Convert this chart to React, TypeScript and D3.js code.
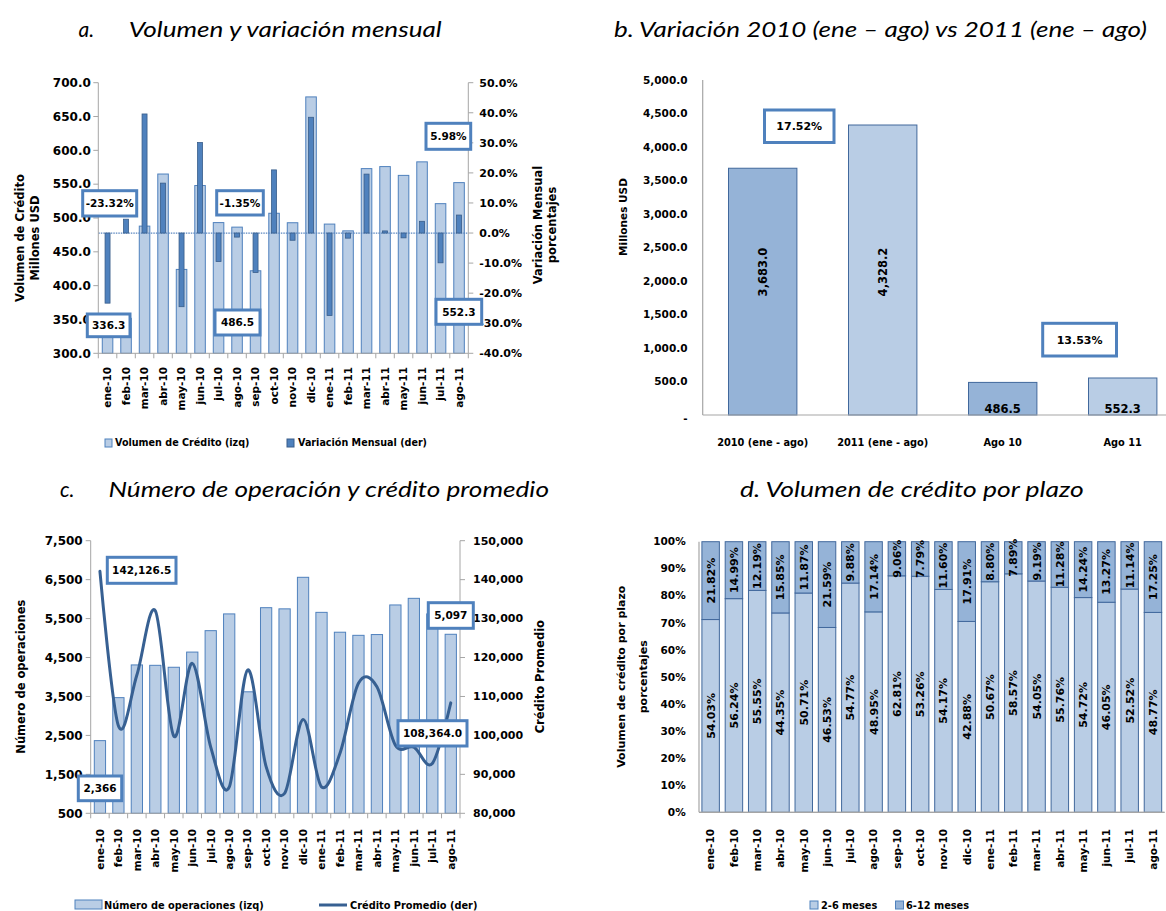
import React from "react";
import * as d3 from "d3";

// ---------- data ----------
const months = [
  "ene-10", "feb-10", "mar-10", "abr-10", "may-10", "jun-10", "jul-10", "ago-10",
  "sep-10", "oct-10", "nov-10", "dic-10", "ene-11", "feb-11", "mar-11", "abr-11",
  "may-11", "jun-11", "jul-11", "ago-11",
];

// a. volumen (millones USD) y variación mensual (%)
const volumenCredito = [
  336.3, 351.7, 488.0, 565.0, 424.0, 548.0, 493.2, 486.5, 422.0, 507.0,
  493.0, 679.0, 491.0, 481.0, 573.0, 576.0, 563.0, 583.0, 521.2, 552.3,
];
const variacionMensual = [
  -23.32, 4.6, 39.6, 16.6, -24.5, 30.1, -9.5, -1.35, -13.1, 21.0,
  -2.4, 38.5, -27.4, -1.7, 19.6, 0.7, -1.6, 3.9, -9.9, 5.98,
];
const volTicks = [300, 350, 400, 450, 500, 550, 600, 650, 700];
const varTicks = [-40, -30, -20, -10, 0, 10, 20, 30, 40, 50];

// b. acumulado enero-agosto y agosto
const periodos = ["2010 (ene - ago)", "2011 (ene - ago)", "Ago 10", "Ago 11"];
const volumenPeriodo = [3683.0, 4328.2, 486.5, 552.3];
const periodoTicks = [0, 500, 1000, 1500, 2000, 2500, 3000, 3500, 4000, 4500, 5000];

// c. número de operaciones y crédito promedio
const numeroOperaciones = [
  2366, 3470, 4310, 4300, 4250, 4640, 5190, 5620, 3620, 5780,
  5750, 6560, 5660, 5150, 5070, 5090, 5850, 6020, 5620, 5097,
];
const creditoPromedio = [
  142126.5, 102500, 115500, 132000, 99800, 118500, 97000, 86700, 116800, 92000,
  85100, 104100, 86800, 95400, 113400, 112500, 97500, 97000, 92800, 108364.0,
];
const opsTicks = [500, 1500, 2500, 3500, 4500, 5500, 6500, 7500];
const promTicks = [80000, 90000, 100000, 110000, 120000, 130000, 140000, 150000];

// d. volumen por plazo (%)
const plazo2a6 = [
  54.03, 56.24, 55.55, 44.35, 50.71, 46.53, 54.77, 48.95, 62.81, 53.26,
  54.17, 42.88, 50.67, 58.57, 54.05, 55.76, 54.72, 46.05, 52.52, 48.77,
];
const plazo6a12 = [
  21.82, 14.99, 12.19, 15.85, 11.87, 21.59, 9.88, 17.14, 9.06, 7.79,
  11.6, 17.91, 8.8, 7.89, 9.19, 11.28, 14.24, 13.27, 11.14, 17.25,
];
const pctTicks = [0, 0.1, 0.2, 0.3, 0.4, 0.5, 0.6, 0.7, 0.8, 0.9, 1];

// ---------- style ----------
const F = "'DejaVu Sans', Verdana, sans-serif";
const TF = "Lato, 'Open Sans', sans-serif";
const LIGHT = "#b9cde5";
const LIGHT_STROKE = "#4f81bd";
const MED = "#95b3d7";
const DARK = "#4f81bd";
const DARK_STROKE = "#385d8a";
const LINE = "#376092";
const AXIS = "#a6a6a6";
const CALLOUT = "#4f81bd";

// plain hyphen for negative numbers
const locale = d3.formatLocale({ decimal: ".", thousands: ",", grouping: [3], currency: ["$", ""], minus: "-" });
const fmt1 = locale.format(",.1f");
const fmtInt = locale.format(",");
const fmtDec1 = locale.format(".1f");
const pct1 = (v: number) => locale.format(".1f")(v) + "%";
const pct2 = (v: number) => locale.format(".2f")(v) + "%";

function Callout({ x0, y0, x1, y1, text, size = 11 }: any) {
  return (
    <g>
      <rect x={x0} y={y0} width={x1 - x0} height={y1 - y0} fill="#fff" stroke={CALLOUT} strokeWidth={3} />
      <text x={(x0 + x1) / 2} y={(y0 + y1) / 2} dy="0.36em" textAnchor="middle" fontWeight="bold" fontSize={size}>
        {text}
      </text>
    </g>
  );
}

function VTitle({ x, y, text, size = 11 }: any) {
  return (
    <text transform={`translate(${x},${y}) rotate(-90)`} textAnchor="middle" dy="0.35em" fontWeight="bold" fontSize={size}>
      {text}
    </text>
  );
}

function MonthAxis({ x, y0, labelY, size = 10.5, ticks = true }: any) {
  const bw = x.bandwidth();
  const [l, r] = x.range();
  return (
    <g>
      <line x1={l} x2={r} y1={y0} y2={y0} stroke={AXIS} />
      {ticks &&
        d3.range(months.length + 1).map((i) => {
          const xx = l + i * x.step();
          return <line key={i} x1={xx} x2={xx} y1={y0} y2={y0 + 5} stroke={AXIS} />;
        })}
      {months.map((m) => (
        <text
          key={m}
          transform={`translate(${x(m) + bw / 2},${labelY}) rotate(-90)`}
          textAnchor="end"
          dy="0.36em"
          fontWeight="bold"
          fontSize={size}
        >
          {m}
        </text>
      ))}
    </g>
  );
}

// ---------- a ----------
function PanelA() {
  const x = d3.scaleBand<string>().domain(months).range([98.3, 468.3]);
  const yL = d3.scaleLinear().domain([300, 700]).range([353.3, 82.7]);
  const yR = d3.scaleLinear().domain([-40, 50]).range([353.3, 82.7]);
  const bw = x.bandwidth();
  const [l, r] = x.range();
  const [b, t] = yL.range();
  const y0 = yR(0);
  return (
    <g>
      {volumenCredito.map((v, i) => (
        <rect key={i} x={x(months[i])! + bw * 0.215} width={bw * 0.57} y={yL(v)} height={b - yL(v)}
          fill={LIGHT} stroke={LIGHT_STROKE} strokeWidth={1} />
      ))}
      <line x1={l} x2={r} y1={y0} y2={y0} stroke="#5b87c0" strokeWidth={1.2} strokeDasharray="1.5 1" />
      {variacionMensual.map((v, i) => (
        <rect key={i} x={x(months[i])! + bw * 0.365} width={bw * 0.27} y={Math.min(yR(v), y0)}
          height={Math.abs(yR(v) - y0)} fill={DARK} stroke={DARK_STROKE} strokeWidth={0.8} />
      ))}
      {/* left axis */}
      <line x1={l} x2={l} y1={t} y2={b} stroke={AXIS} />
      {volTicks.map((v) => (
        <g key={v}>
          <line x1={l - 5} x2={l} y1={yL(v)} y2={yL(v)} stroke={AXIS} />
          <text x={l - 7.5} y={yL(v)} dy="0.35em" textAnchor="end" fontWeight="bold" fontSize={12}>{fmtDec1(v)}</text>
        </g>
      ))}
      {/* right axis */}
      <line x1={r} x2={r} y1={t} y2={b} stroke={AXIS} />
      {varTicks.map((v) => (
        <g key={v}>
          <line x1={r} x2={r + 5} y1={yR(v)} y2={yR(v)} stroke={AXIS} />
          <text x={r + 11} y={yR(v)} dy="0.35em" textAnchor="start" fontWeight="bold" fontSize={11}>{pct1(v)}</text>
        </g>
      ))}
      <MonthAxis x={x} y0={b} labelY={367} size={10.5} />
      <VTitle x={20} y={238} text="Volumen de Crédito" size={11.5} />
      <VTitle x={35} y={238} text="Millones USD" size={11.5} />
      <VTitle x={538} y={225} text="Variación Mensual" size={11.5} />
      <VTitle x={552} y={225} text="porcentajes" size={11.5} />
      {/* legend */}
      <rect x={105} y={439} width={7} height={8} fill={LIGHT} stroke={LIGHT_STROKE} />
      <text x={115} y={443} dy="0.36em" fontWeight="bold" fontSize={9.6}>Volumen de Crédito (izq)</text>
      <rect x={287} y={439} width={7} height={8} fill={DARK} stroke={DARK_STROKE} />
      <text x={298} y={443} dy="0.36em" fontWeight="bold" fontSize={9.6}>Variación Mensual  (der)</text>
      {/* callouts */}
      <Callout x0={82.7} y0={190.7} x1={136.7} y1={216} text={pct2(variacionMensual[0])} size={10.5} />
      <Callout x0={87.3} y0={314} x1={130} y1={336.7} text={fmtDec1(volumenCredito[0])} size={10.5} />
      <Callout x0={216.7} y0={190.7} x1={263.3} y1={215} text={pct2(variacionMensual[7])} size={10.5} />
      <Callout x0={215} y0={310} x1={260} y1={335} text={fmtDec1(volumenCredito[7])} size={10.5} />
      <Callout x0={426} y0={123.3} x1={470.7} y1={149.3} text={pct2(variacionMensual[19])} size={10.5} />
      <Callout x0={436} y0={299.3} x1={481.7} y1={324.3} text={fmtDec1(volumenCredito[19])} size={10.5} />
    </g>
  );
}

// ---------- b ----------
function PanelB() {
  const x = d3.scaleBand<string>().domain(periodos).range([702.7, 1182.7]);
  const y = d3.scaleLinear().domain([0, 5000]).range([415, 80]);
  const step = x.step();
  const w = step * 0.57;
  const fills = [MED, LIGHT, MED, LIGHT];
  const growth = (a: number, b: number) => pct2((b / a - 1) * 100);
  return (
    <g>
      {volumenPeriodo.map((v, i) => {
        const cx = x(periodos[i])! + step / 2;
        return (
          <g key={i}>
            <rect x={cx - w / 2} width={w} y={y(v)} height={y(0) - y(v)} fill={fills[i]} stroke="#41689c" strokeWidth={1} />
            {i < 2 ? (
              <text transform={`translate(${cx},272) rotate(-90)`} textAnchor="middle" dy="0.36em" fontWeight="bold" fontSize={11.5}>
                {fmt1(v)}
              </text>
            ) : (
              <text x={cx} y={409} dy="0.36em" textAnchor="middle" fontWeight="bold" fontSize={11.5}>{fmt1(v)}</text>
            )}
            <text x={cx} y={442} dy="0.36em" textAnchor="middle" fontWeight="bold" fontSize={9.8}>{periodos[i]}</text>
          </g>
        );
      })}
      <line x1={702.7} x2={1166} y1={y(0)} y2={y(0)} stroke={AXIS} strokeWidth={1.2} />
      <line x1={702.7} x2={702.7} y1={y(5000)} y2={y(0)} stroke={AXIS} strokeWidth={1.2} />
      {periodoTicks.map((v) => (
        <text key={v} x={687.5} y={y(v) + (v === 0 ? 3 : 0)} dy="0.35em" textAnchor="end" fontWeight="bold" fontSize={10.5}>
          {v === 0 ? "-" : fmt1(v)}
        </text>
      ))}
      <VTitle x={623.5} y={217} text="Millones USD" size={10.5} />
      <Callout x0={764.5} y0={110} x1={834} y1={142.5} text={growth(volumenPeriodo[0], volumenPeriodo[1])} size={11} />
      <Callout x0={1042.7} y0={323.3} x1={1116.5} y1={356} text={growth(volumenPeriodo[2], volumenPeriodo[3])} size={11} />
    </g>
  );
}

// ---------- c ----------
function PanelC() {
  const x = d3.scaleBand<string>().domain(months).range([90.7, 460]);
  const yL = d3.scaleLinear().domain([500, 7500]).range([813.3, 540.7]);
  const yR = d3.scaleLinear().domain([80000, 150000]).range([813.3, 540.7]);
  const bw = x.bandwidth();
  const [l, r] = x.range();
  const [b, t] = yL.range();
  const line = d3
    .line<number>()
    .x((_, i) => x(months[i])! + bw / 2)
    .y((d) => yR(d))
    .curve(d3.curveCardinal.tension(0));
  return (
    <g>
      {numeroOperaciones.map((v, i) => (
        <rect key={i} x={x(months[i])! + bw * 0.195} width={bw * 0.61} y={yL(v)} height={b - yL(v)}
          fill={LIGHT} stroke={LIGHT_STROKE} strokeWidth={1} />
      ))}
      <path d={line(creditoPromedio)!} fill="none" stroke={LINE} strokeWidth={3} strokeLinejoin="round" strokeLinecap="round" />
      <line x1={l} x2={l} y1={t} y2={b} stroke={AXIS} />
      {opsTicks.map((v) => (
        <g key={v}>
          <line x1={l - 5} x2={l} y1={yL(v)} y2={yL(v)} stroke={AXIS} />
          <text x={l - 8} y={yL(v)} dy="0.35em" textAnchor="end" fontWeight="bold" fontSize={12}>{fmtInt(v)}</text>
        </g>
      ))}
      <line x1={r} x2={r} y1={t} y2={b} stroke={AXIS} />
      {promTicks.map((v) => (
        <g key={v}>
          <line x1={r} x2={r + 5} y1={yR(v)} y2={yR(v)} stroke={AXIS} />
          <text x={r + 13} y={yR(v)} dy="0.35em" textAnchor="start" fontWeight="bold" fontSize={11}>{fmtInt(v)}</text>
        </g>
      ))}
      <MonthAxis x={x} y0={b} labelY={829} size={10.5} />
      <VTitle x={20.7} y={676.7} text="Número de operaciones" size={11.5} />
      <VTitle x={540} y={676.7} text="Crédito Promedio" size={11.5} />
      {/* legend */}
      <rect x={75} y={900} width={27} height={9} fill={LIGHT} stroke={LIGHT_STROKE} />
      <text x={104} y={905} dy="0.36em" fontWeight="bold" fontSize={9.8}>Número de operaciones  (izq)</text>
      <line x1={319} x2={347} y1={905} y2={905} stroke={LINE} strokeWidth={3} />
      <text x={350} y={905} dy="0.36em" fontWeight="bold" fontSize={9.8}>Crédito Promedio (der)</text>
      {/* callouts */}
      <Callout x0={107.3} y0={557.3} x1={176} y1={583.3} text={fmt1(creditoPromedio[0])} size={10.5} />
      <Callout x0={78.3} y0={776} x1={121.7} y1={800.7} text={fmtInt(numeroOperaciones[0])} size={10.5} />
      <Callout x0={428.3} y0={602.7} x1={473.3} y1={628.3} text={fmtInt(numeroOperaciones[19])} size={10.5} />
      <Callout x0={398} y0={720.7} x1={467} y1={746} text={fmt1(creditoPromedio[19])} size={10.5} />
    </g>
  );
}

// ---------- d ----------
function PanelD() {
  const x = d3.scaleBand<string>().domain(months).range([699, 1164.6]);
  const y = d3.scaleLinear().domain([0, 1]).range([812.3, 541.7]);
  const bw = x.bandwidth();
  const rows = months.map((m, i) => ({ m, corto: plazo2a6[i], largo: plazo6a12[i] }));
  const series = d3.stack<any>().keys(["corto", "largo"]).offset(d3.stackOffsetExpand)(rows);
  const fills = [LIGHT, MED];
  const w = bw * 0.75;
  return (
    <g>
      {series.map((s, k) =>
        s.map((seg, i) => {
          const cx = x(months[i])! + bw / 2;
          return (
            <rect key={`${k}-${i}`} x={cx - w / 2} width={w} y={y(seg[1])} height={y(seg[0]) - y(seg[1])}
              fill={fills[k]} stroke="#41689c" strokeWidth={1} />
          );
        })
      )}
      {series.map((s, k) =>
        s.map((seg, i) => {
          const cx = x(months[i])! + bw / 2;
          const v = k === 0 ? plazo2a6[i] : plazo6a12[i];
          return (
            <text key={`t${k}-${i}`} transform={`translate(${cx},${y((seg[0] + seg[1]) / 2)}) rotate(-90)`}
              textAnchor="middle" dy="0.36em" fontWeight="bold" fontSize={11}>
              {pct2(v)}
            </text>
          );
        })
      )}
      <line x1={699} x2={1164.6} y1={y(0)} y2={y(0)} stroke={AXIS} strokeWidth={1.2} />
      <line x1={699} x2={699} y1={y(1)} y2={y(0)} stroke={AXIS} strokeWidth={1.2} />
      {pctTicks.map((v) => (
        <text key={v} x={685.7} y={y(v)} dy="0.35em" textAnchor="end" fontWeight="bold" fontSize={10.5}>
          {locale.format(".0%")(v)}
        </text>
      ))}
      <MonthAxis x={x} y0={y(0)} labelY={829} size={10.5} ticks={false} />
      <VTitle x={620.7} y={676.7} text="Volumen de crédito por plazo" size={11} />
      <VTitle x={643.3} y={676.7} text="porcentajes" size={11} />
      <rect x={810} y={901} width={8} height={8} fill={LIGHT} stroke={LIGHT_STROKE} />
      <text x={821} y={905} dy="0.36em" fontWeight="bold" fontSize={9.8}>2-6 meses</text>
      <rect x={895.5} y={901} width={8} height={8} fill={MED} stroke={LIGHT_STROKE} />
      <text x={906} y={905} dy="0.36em" fontWeight="bold" fontSize={9.8}>6-12 meses</text>
    </g>
  );
}

function Titles() {
  const common = { fontFamily: TF, fontStyle: "italic", fontSize: 21, lengthAdjust: "spacingAndGlyphs" as const };
  return (
    <g>
      <text x={78.6} y={37} {...common}>a.</text>
      <text x={128.7} y={37} textLength={313} {...common}>Volumen y variación mensual</text>
      <text x={614} y={37} textLength={533} {...common}>b. Variación 2010 (ene – ago) vs 2011 (ene – ago)</text>
      <text x={60} y={497} {...common}>c.</text>
      <text x={108.4} y={497} textLength={440.6} {...common}>Número de operación y crédito promedio</text>
      <text x={740} y={497} textLength={343.7} {...common}>d. Volumen de crédito por plazo</text>
    </g>
  );
}

export default function App() {
  return (
    <svg width={1166} height={911} style={{ position: "absolute", left: 0, top: 0, background: "#fff" }} fontFamily={F}>
      <rect width={1166} height={911} fill="#fff" />
      <Titles />
      <PanelA />
      <PanelB />
      <PanelC />
      <PanelD />
    </svg>
  );
}
